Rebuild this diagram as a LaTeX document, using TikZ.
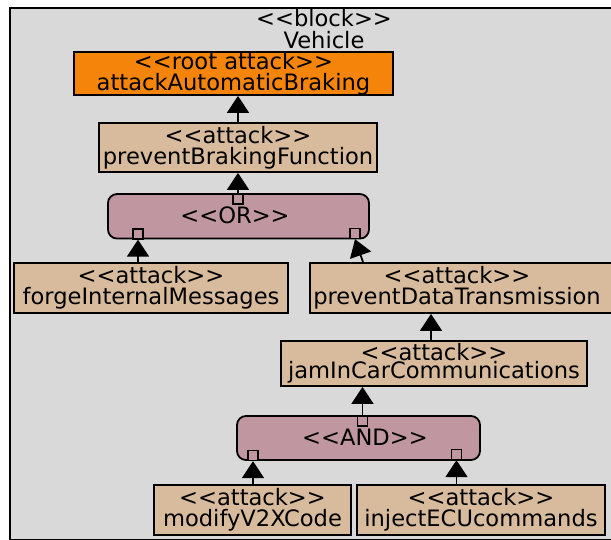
\documentclass[tikz,border=0pt]{standalone}
\usepackage{fontspec}
\setmainfont{DejaVu Sans}[Ligatures=TeXOff]
\usetikzlibrary{arrows.meta}
\definecolor{bgray}{RGB}{217,217,217}
\definecolor{rootor}{RGB}{245,133,10}
\definecolor{tanbox}{RGB}{216,187,156}
\definecolor{mauve}{RGB}{192,151,160}
\begin{document}
\begin{tikzpicture}[x=1pt,y=-1pt,
  blockbox/.style={draw, line width=2.2pt, fill=bgray, inner sep=0pt, anchor=north west},
  atk/.style={draw, line width=1.8pt, fill=tanbox, inner sep=0pt, align=center, font=\fontsize{22.6}{21}\selectfont},
  rootbox/.style={atk, fill=rootor},
  gate/.style={draw, line width=1.8pt, fill=mauve, rounded corners=9pt, inner sep=0pt},
  port/.style={draw, line width=1.3pt, fill=mauve, minimum size=10pt, inner sep=0pt},
  lbl/.style={font=\fontsize{22.6}{21}\selectfont, align=center, inner sep=0pt},
  link/.style={line width=1.8pt, -{Triangle[length=17pt,width=22pt]}}]
\useasboundingbox (0,0) rectangle (611,540);
\node (block) [blockbox, minimum width=641pt, minimum height=531.5pt] at (9,7) {};
\node (title) [lbl, font=\fontsize{22.6}{22}\selectfont] at (324,29) {<<block>>\\Vehicle};
\node (root) [rootbox, minimum width=319pt, minimum height=43pt] at (233.5,73.5) {<<root attack>>\\attackAutomaticBraking};
\node (pbf) [atk, minimum width=278pt, minimum height=49pt] at (238,147.5) {<<attack>>\\preventBrakingFunction};
\node (or) [gate, minimum width=261pt, minimum height=44.5pt] at (238.5,216.3) {};
\node (ortext) [lbl] at (235,215) {<<OR>>};
\node (orT) [port] at (238,199) {};
\node (orL) [port] at (138,234) {};
\node (orR) [port] at (355,233.5) {};
\node (forge) [atk, minimum width=274pt, minimum height=50pt] at (151,288) {<<attack>>\\forgeInternalMessages};
\node (pdt) [atk, minimum width=330pt, minimum height=50pt, anchor=west] at (309,288) {};
\node (pdttext) [lbl] at (457,288) {<<attack>>\\preventDataTransmission};
\node (jam) [atk, minimum width=306pt, minimum height=45pt, font=\fontsize{22.6}{18.5}\selectfont] at (434,363.5) {<<attack>>\\jamInCarCommunications};
\node (and) [gate, minimum width=243pt, minimum height=44pt] at (358.5,438) {};
\node (andtext) [lbl] at (365,437) {<<AND>>};
\node (andT) [port] at (362.5,421) {};
\node (andL) [port] at (253,455.5) {};
\node (andR) [port] at (456.5,454.5) {};
\node (mod) [atk, minimum width=197pt, minimum height=50pt] at (252.5,510) {<<attack>>\\modifyV2XCode};
\node (inj) [atk, minimum width=248pt, minimum height=50pt] at (481,510) {<<attack>>\\injectECUcommands};
\draw[link] (pbf.north) -- (pbf.north |- root.south);
\draw[link] (orT.north) -- (orT.north |- pbf.south);
\draw[link] (orL.south |- forge.north) -- (orL.south);
\draw[link] ([xshift=54pt]pdt.north west) -- (orR.south);
\draw[link] ([xshift=-3pt]jam.north) -- ([xshift=-3pt]jam.north |- pdt.south);
\draw[link] (andT.north) -- (andT.north |- jam.south);
\draw[link] (andL.south |- mod.north) -- (andL.south);
\draw[link] (andR.south |- inj.north) -- (andR.south);
\end{tikzpicture}
\end{document}
